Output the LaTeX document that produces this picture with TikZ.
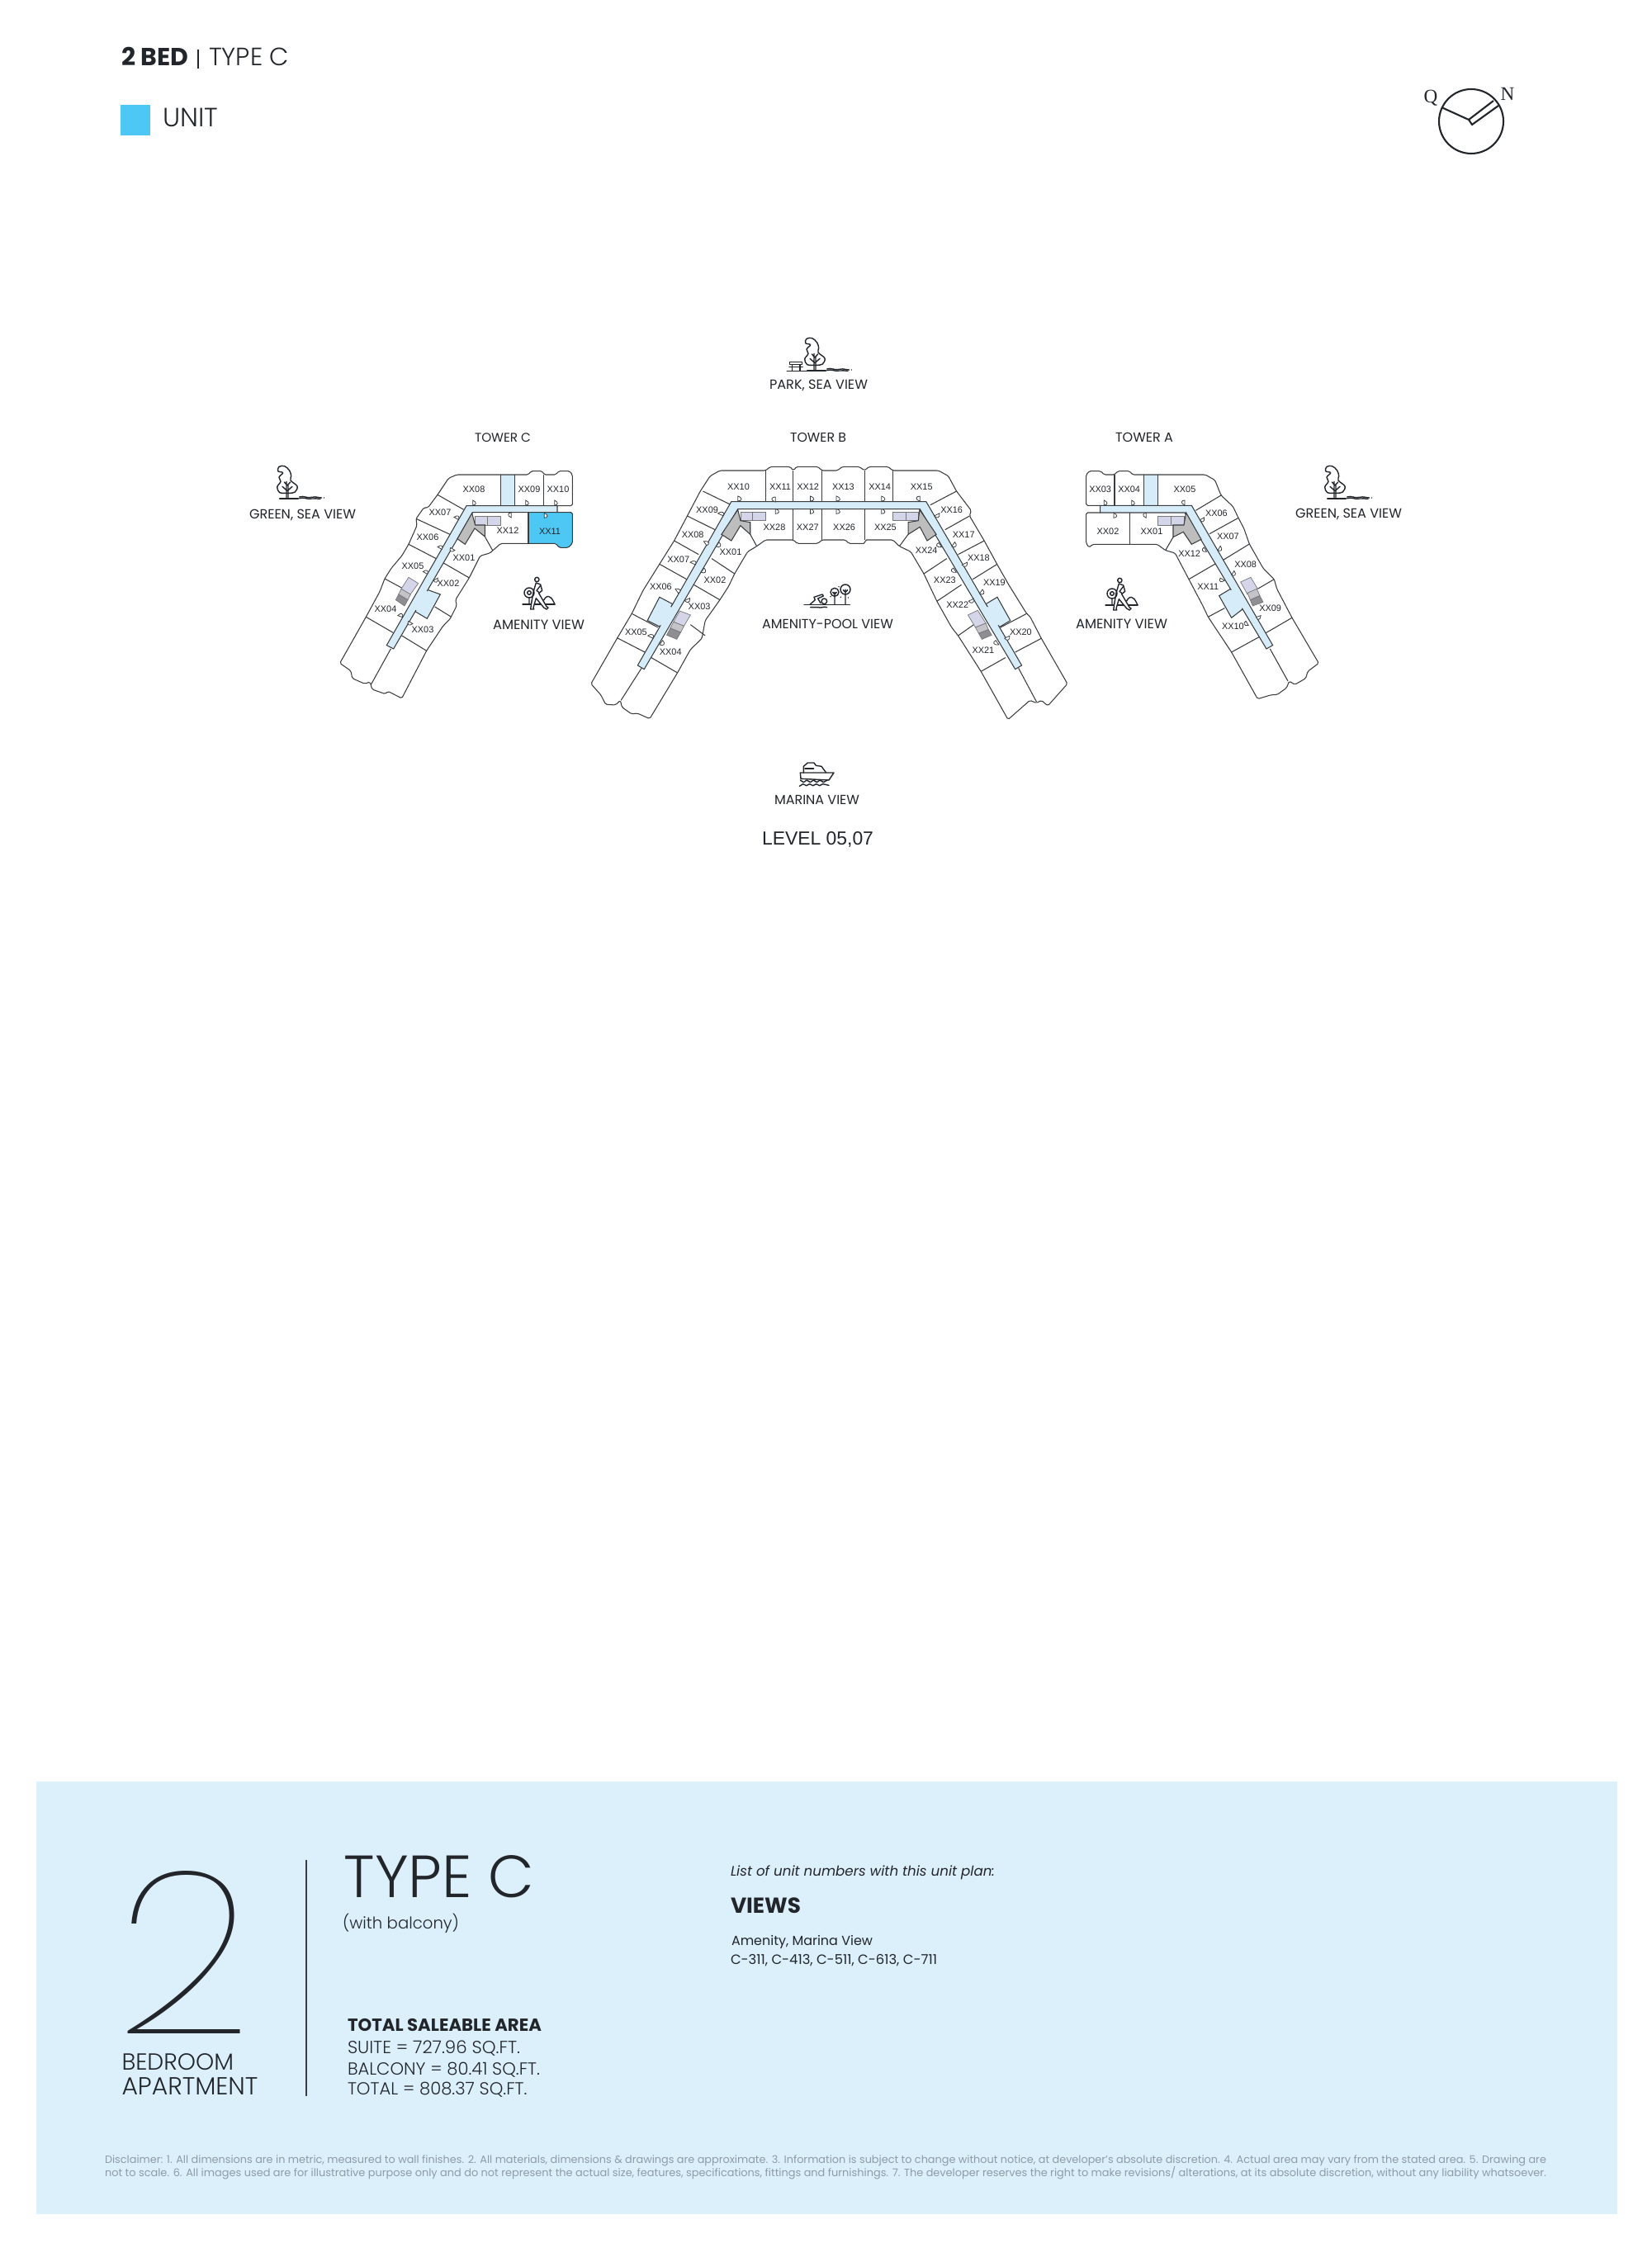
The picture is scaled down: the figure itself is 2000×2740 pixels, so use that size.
\documentclass[tikz,border=0pt]{standalone}
\usepackage{graphicx}
\usepackage{fontspec}
\setmainfont{Poppins}
\newfontfamily\plight{Poppins Light}
\newfontfamily\pthin{Poppins Thin}
\newfontfamily\lsans{Liberation Sans}
\newfontfamily\lserif{Liberation Serif}
\definecolor{ink}{HTML}{22252A}
\definecolor{wall}{HTML}{3A3D40}
\definecolor{corr}{HTML}{D6ECF8}
\definecolor{panelbg}{HTML}{DCF0FC}
\definecolor{unitblue}{HTML}{4DC8F5}
\definecolor{lilac}{HTML}{D5D5EA}
\definecolor{coreg}{HTML}{BDBDBD}
\definecolor{midg}{HTML}{C4C4C8}
\definecolor{darkg}{HTML}{8E8E92}
\definecolor{discl}{HTML}{8C9BA8}
\newlength\pxu \setlength\pxu{0.01cm}
\newcounter{nd}
\tikzset{
  wallline/.style={draw=wall,line width=0.3pt},
  softline/.style={draw=wall!70,line width=0.2pt},
  doorline/.style={draw=wall,line width=0.22pt,fill=white},
  outline/.style={draw=wall,line width=0.3pt,rounded corners=0.5pt},
  corridor/.style={draw=wall,line width=0.3pt,fill=corr},
  iconline/.style={draw=ink,line width=0.4pt,line cap=round,line join=round},
  txt/.style={inner sep=0pt,outer sep=0pt,anchor=base west,text=ink},
  unitlabel/.style={inner sep=0pt,outer sep=0pt,text=ink,font=\lsans\fontsize{3.1}{3.6}\selectfont}
}
% left x, baseline y, width, font, text
\newcommand\tx[5]{\stepcounter{nd}\node[txt] (t\thend) at (#1,#2) {\resizebox{#3\pxu}{!}{\fontsize{10}{12}\selectfont #4{}#5}};}
\newcommand\ul[3]{\stepcounter{nd}\node[unitlabel] (u\thend) at (#1,#2) {#3};}
\newcommand\door[3]{\draw[doorline,shift={(#1,#2)},rotate=#3] (0,-9) -- (0,9) .. controls (12,9) and (17,-2) .. (0,-9) -- cycle;}
\newcommand\treeicon[2]{\begin{scope}[shift={(#1,#2)},scale=0.3333]
 \draw[iconline] plot[smooth cycle,tension=0.6] coordinates {(-8,-20)(-28,-22)(-37,-42)(-24,-62)(-30,-78)(-16,-94)(-34,-100)(-30,-116)(-10,-118)(8,-102)(14,-82)(12,-66)(36,-45)(28,-24)(8,-20)};
 \draw[iconline] (-3,0)--(-3,-62) (3,0)--(3,-50) (0,-28)--(-18,-44) (0,-28)--(18,-44) (0,-48)--(-11,-60) (0,-48)--(11,-60);
 \draw[iconline] (-28,0)--(40,0);
 \draw[iconline] (44,-6) .. controls (60,-12) and (70,0) .. (90,-5) .. controls (105,-9) and (115,-2) .. (125,-3);
 \draw[iconline] (44,-1) .. controls (60,-7) and (70,4) .. (90,0) .. controls (100,-3) and (110,2) .. (120,1);
 \fill[ink] (133,-3) circle (2.5);
\end{scope}}
\newcommand\runner[2]{\begin{scope}[shift={(#1,#2)},scale=0.3333]
 \draw[iconline] (-57,0)--(60,0);
 \draw[iconline] (-5,-90) circle (8);
 \draw[iconline,fill=white] (-8,-78) -- (8,-72) -- (14,-50) -- (2,-40) -- (30,8) -- (36,12) -- (30,18) -- (20,12) -- (-8,-22) -- (-18,12) -- (-16,18) -- (-28,18) -- (-24,-10) -- (-18,-45) -- cycle;
 \draw[iconline] (8,-68) -- (-6,-50) -- (2,-44);
 \draw[iconline] (-33,-42) circle (18) (-33,-42) circle (7) (-33,-24)--(-33,0);
 \draw[iconline] (20,-15) .. controls (26,-28) and (36,-32) .. (42,-26) .. controls (50,-24) and (56,-8) .. (60,0);
\end{scope}}
\begin{document}
\begin{tikzpicture}[x=0.01cm,y=-0.01cm]
\useasboundingbox (0,0) rectangle (2000,2740);
\fill[white] (0,0) rectangle (2000,2740);

% ---- header
\tx{147}{80}{81}{\bfseries}{2 BED}
\draw[ink,line width=0.4pt] (240,60)--(240,83);
\tx{253}{80}{97}{\plight}{TYPE C}
\fill[unitblue] (146,127) rectangle (182,164);
\tx{197}{154}{67}{\plight}{UNIT}

% ---- compass
\draw[ink,line width=0.6pt] (1782,147) circle (39);
\draw[ink,line width=0.6pt,line join=miter] (1746,130)--(1779,145)--(1809,122) (1779,145)--(1783,151)--(1815,128);
\node[inner sep=0pt,text=ink,font=\lserif\fontsize{6.6}{8}\selectfont] (cq) at (1733,119) {Q};
\node[inner sep=0pt,text=ink,font=\lserif\fontsize{6.6}{8}\selectfont] (cn) at (1826,114) {N};

% ---- view labels
\treeicon{987}{449}
\begin{scope}[shift={(850,400)},scale=0.3333]
 \draw[iconline] (310,148)--(440,148) (320,115)--(365,115)--(365,125)--(320,125)--cycle (318,133)--(367,133) (328,125)--(328,148) (357,125)--(357,148);
\end{scope}
\tx{932}{472}{119}{}{PARK, SEA VIEW}
\tx{957}{536}{68}{}{TOWER B}
\tx{575}{536}{68}{}{TOWER C}
\tx{1351}{536}{70}{}{TOWER A}
\treeicon{348}{604}
\tx{302}{628}{129}{}{GREEN, SEA VIEW}
\treeicon{1617}{604}
\tx{1569}{627}{129}{}{GREEN, SEA VIEW}
\runner{652}{732}
\tx{597}{762}{111}{}{AMENITY VIEW}
\runner{1358}{733}
\tx{1303}{761}{111}{}{AMENITY VIEW}
\tx{923}{761}{159}{}{AMENITY-POOL VIEW}
\tx{938}{974}{103}{}{MARINA VIEW}
\tx{923}{1023}{135}{\lsans}{LEVEL 05,07}

% swimmer
\begin{scope}[shift={(880,700)},scale=0.3333]
 \draw[iconline] (282,97)--(448,97);
 \draw[iconline] (355,85) circle (10);
 \draw[iconline] (303,97) -- (322,80) -- (318,70) -- (348,60) -- (352,66) -- (332,75) -- (342,92);
 \draw[iconline] (305,107) .. controls (315,111) and (322,103) .. (333,107) .. controls (343,111) and (352,103) .. (365,107);
 \draw[iconline] (393,52) circle (15) (432,42) circle (18) (393,52)--(393,97) (432,42)--(432,97) (393,60)--(386,52) (393,60)--(400,52) (432,52)--(424,44) (432,52)--(440,44);
 \fill[ink] (378,68) circle (2.5) (408,32) circle (2.5) (415,70) circle (2.5) (442,72) circle (2.5);
\end{scope}
% boat
\begin{scope}[shift={(880,700)},scale=0.3333]
 \draw[iconline] (268,708)--(390,708)--(372,735)--(270,730)--cycle;
 \draw[iconline] (280,708)--(280,685)--(295,672)--(318,672)--(325,682)--(345,685)--(362,708);
 \draw[iconline,dashed] (285,693)--(340,693);
 \draw[iconline] (268,735) -- (280,743) -- (292,735) -- (304,743) -- (316,735) -- (328,743) -- (340,735) -- (352,743) -- (366,735);
 \draw[iconline] (265,757) -- (278,749) -- (290,755) -- (302,749) -- (314,755) -- (326,749) -- (338,755) -- (350,749) -- (372,754);
\end{scope}

% ---- TOWER C
\begin{scope}[shift={(380,500)},scale=0.3333]
 \fill[unitblue] (780,362) -- (940,362) -- (940,475) -- (925,490) -- (892,490) -- (880,475) -- (780,475) -- cycle;
 \fill[corr] (680,225) rectangle (730,338);
 \draw[outline] (885,338) -- (940,338) -- (940,225) -- (930,212) -- (890,212) -- (880,225) -- (838,225) -- (830,212) -- (790,212) -- (780,225) -- (520,225) -- (490,238) -- (450,298) -- (415,345) -- (400,345) -- (372,385) -- (375,410) -- (345,478) -- (320,520) -- (282,565) -- (258,603) -- (240,650) -- (190,742) -- (95,910) -- (135,938) -- (140,965) -- (185,985) -- (205,978) -- (212,1005) -- (260,1022) -- (270,1012) -- (320,1038) -- (410,865) -- (470,775) -- (495,750) -- (520,700) -- (515,680) -- (565,600) -- (605,520) -- (640,510) -- (680,475) -- (880,475) -- (892,490) -- (925,490) -- (940,475) -- (940,362) -- (885,362);
 \draw[wallline] (680,225)--(680,338) (730,225)--(730,338) (835,225)--(835,338) (780,362)--(780,475);
 \draw[wallline] (450,298)--(545,352) (372,385)--(495,442) (345,478)--(445,530) (258,603)--(345,650) (190,742)--(290,800);
 \draw[wallline] (470,545)--(565,600) (440,705)--(500,742) (320,810)--(410,865) (622,450)--(650,500) (280,858)--(207,990);
 \draw[wallline,fill=corr] (405,640) -- (460,660) -- (412,748) -- (365,720) -- cycle;
 \draw[corridor] (265,845) -- (555,338) -- (885,338) -- (885,362) -- (578,362) -- (290,858) -- cycle;
 \fill[corr] (408,648) -- (424,652) -- (382,722) -- (366,714) -- cycle;
 \draw[softline,fill=lilac] (587,375) rectangle (632,408);
 \draw[softline,fill=lilac] (632,375) rectangle (680,408);
 \draw[wallline,fill=coreg] (575,365) -- (587,408) -- (622,408) -- (622,450) -- (585,420) -- (550,478) -- (522,458) -- cycle;
 \draw[softline,fill=lilac] (345,598) -- (380,620) -- (350,662) -- (318,640) -- cycle;
 \draw[softline,fill=midg] (318,640) -- (352,660) -- (342,680) -- (308,660) -- cycle;
 \draw[softline,fill=darkg] (308,660) -- (342,680) -- (330,702) -- (298,680) -- cycle;
 \door{578}{327}{0}\door{770}{327}{0}\door{875}{327}{0}\door{718}{372}{180}\door{838}{373}{0}
 \door{518}{384}{60}\door{458}{492}{60}\door{505}{495}{-120}\door{405}{582}{60}\door{443}{605}{-60}\door{314}{740}{70}\door{352}{762}{-120}
\end{scope}
\ul{574}{593}{XX08}\ul{641}{593}{XX09}\ul{676}{593}{XX10}\ul{533}{621}{XX07}\ul{615}{643}{XX12}\ul{666}{644}{XX11}\ul{518}{651}{XX06}\ul{562}{676}{XX01}\ul{500}{686}{XX05}\ul{543}{707}{XX02}\ul{467}{738}{XX04}\ul{512}{763}{XX03}

% ---- TOWER B
\begin{scope}[shift={(700,540)},xscale=0.3953,yscale=0.3333]
 \draw[outline] (575,90) -- (590,76) -- (650,76) -- (660,90) -- (670,76) -- (735,76) -- (748,90) -- (795,90) -- (810,76) -- (862,76) -- (878,90) -- (892,76) -- (950,76) -- (965,90) -- (1105,90) -- (1135,110) -- (1160,165) -- (1205,235) -- (1200,255) -- (1245,345) -- (1285,432) -- (1320,505) -- (1375,610) -- (1385,620) -- (1420,700) -- (1500,865) -- (1440,945) -- (1420,925) -- (1405,935) -- (1385,925) -- (1318,995) -- (1235,820) -- (1165,690) -- (1145,660) -- (1100,565) -- (1080,515) -- (1060,465) -- (1020,385) -- (985,365) -- (965,342) -- (880,342) -- (880,355) -- (830,355) -- (820,342) -- (748,342) -- (735,355) -- (672,355) -- (660,342) -- (575,342) -- (548,365) -- (520,385) -- (480,465) -- (462,510) -- (435,560) -- (390,635) -- (380,700) -- (345,740) -- (305,825) -- (220,992) -- (182,972) -- (165,975) -- (135,950) -- (130,925) -- (115,942) -- (85,940) -- (70,905) -- (40,865) -- (120,700) -- (165,610) -- (200,525) -- (250,430) -- (295,345) -- (335,255) -- (375,165) -- (405,110) -- (435,90) -- cycle;
 \draw[wallline] (575,90)--(575,203) (660,90)--(660,203) (748,90)--(748,203) (878,90)--(878,203) (965,90)--(965,203) (660,230)--(660,342) (748,230)--(748,342) (880,230)--(880,342);
 \draw[wallline] (383,165)--(470,215) (335,255)--(420,305) (295,345)--(370,395) (250,430)--(333,485) (165,610)--(245,660) (120,698)--(205,750);
 \draw[wallline] (410,410)--(480,465) (355,505)--(435,560) (345,650)--(390,690) (225,770)--(305,825);
 \draw[wallline] (1160,165)--(1080,215) (1200,255)--(1125,305) (1245,345)--(1165,395) (1285,430)--(1210,485) (1375,610)--(1295,660) (1420,700)--(1340,750);
 \draw[wallline] (1130,410)--(1060,465) (1175,505)--(1100,565) (1225,640)--(1165,690) (1310,770)--(1235,820);
 \draw[wallline] (195,808)--(132,925) (1350,808)--(1405,930) (528,322)--(548,365) (1012,322)--(985,365);
 \draw[wallline,fill=corr] (250,550) -- (290,575) -- (255,660) -- (213,635) -- cycle;
 \draw[wallline,fill=corr] (1285,550) -- (1250,575) -- (1290,660) -- (1325,635) -- cycle;
 \draw[corridor] (183,798) -- (470,203) -- (1067,203) -- (1360,798) -- (1340,812) -- (1048,230) -- (490,230) -- (203,812) -- cycle;
 \fill[corr] (282,585) -- (296,590) -- (262,655) -- (248,650) -- cycle;
 \fill[corr] (1244,590) -- (1258,585) -- (1292,650) -- (1280,655) -- cycle;
 \draw[softline,fill=lilac] (498,240) rectangle (535,272);
 \draw[softline,fill=lilac] (535,240) rectangle (575,272);
 \draw[softline,fill=lilac] (965,240) rectangle (1005,272);
 \draw[softline,fill=lilac] (1005,240) rectangle (1043,272);
 \draw[wallline,fill=coreg] (490,232) -- (498,272) -- (528,278) -- (528,322) -- (498,290) -- (470,345) -- (440,322) -- cycle;
 \draw[wallline,fill=coreg] (1047,232) -- (1043,272) -- (1012,278) -- (1012,322) -- (1048,295) -- (1070,345) -- (1098,322) -- cycle;
 \draw[softline,fill=lilac] (312,600) -- (345,615) -- (325,655) -- (293,640) -- cycle;
 \draw[softline,fill=midg] (293,640) -- (325,655) -- (315,678) -- (283,663) -- cycle;
 \draw[softline,fill=darkg] (283,663) -- (315,678) -- (303,703) -- (272,688) -- cycle;
 \draw[softline,fill=lilac] (1225,598) -- (1250,645) -- (1218,660) -- (1195,615) -- cycle;
 \draw[softline,fill=midg] (1250,645) -- (1258,668) -- (1228,682) -- (1218,660) -- cycle;
 \draw[softline,fill=darkg] (1258,668) -- (1268,688) -- (1238,703) -- (1228,682) -- cycle;
 \door{490}{192}{0}\door{605}{195}{180}\door{712}{192}{0}\door{792}{192}{0}\door{930}{192}{0}\door{1048}{192}{180}
 \door{605}{238}{0}\door{712}{238}{0}\door{792}{238}{0}\door{930}{238}{0}
 \door{437}{250}{60}\door{390}{355}{30}\door{428}{358}{-30}\door{352}{428}{60}\door{382}{452}{-30}\door{303}{528}{30}\door{335}{558}{-60}\door{222}{695}{60}\door{255}{715}{-30}
 \door{1100}{250}{-60}\door{1110}{360}{-150}\door{1150}{358}{-30}\door{1185}{428}{-60}\door{1155}{452}{-150}\door{1235}{530}{-30}\door{1205}{560}{-60}\door{1285}{715}{-150}\door{1315}{695}{-60}
 \foreach \px/\py/\pt in {492/148/XX10,620/148/XX11,705/148/XX12,813/148/XX13,925/148/XX14,1053/148/XX15,396/234/XX09,1145/234/XX16,602/297/XX28,704/297/XX27,816/297/XX26,942/297/XX25,352/323/XX08,1182/323/XX17,468/385/XX01,1068/380/XX24,308/412/XX07,1228/408/XX18,420/487/XX02,1124/487/XX23,254/512/XX06,1276/498/XX19,372/585/XX03,1163/578/XX22,178/678/XX05,1357/676/XX20,284/750/XX04,1242/742/XX21} {\node[unitlabel] (b\pt) at (\px,\py) {\pt};}
\end{scope}

% ---- TOWER A
\begin{scope}[shift={(1280,540)},scale=0.3333]
 \fill[corr] (317,105) rectangle (367,217);
 \draw[outline] (158,217) -- (107,217) -- (107,105) -- (118,92) -- (160,92) -- (172,105) -- (210,105) -- (222,92) -- (265,92) -- (275,105) -- (540,105) -- (575,125) -- (597,180) -- (640,220) -- (660,262) -- (680,300) -- (700,357) -- (750,445) -- (790,485) -- (800,520) -- (855,625) -- (952,790) -- (912,820) -- (905,845) -- (865,868) -- (845,855) -- (835,880) -- (800,905) -- (780,905) -- (730,920) -- (635,750) -- (550,622) -- (530,580) -- (480,485) -- (430,390) -- (395,380) -- (365,358) -- (130,358) -- (118,370) -- (107,355) -- (107,243) -- (158,243);
 \draw[wallline] (210,105)--(210,217) (317,105)--(317,217) (367,105)--(367,217) (265,243)--(265,358);
 \draw[wallline] (597,180)--(505,235) (660,262)--(555,320) (700,357)--(605,415) (790,485)--(730,520) (855,625)--(760,680);
 \draw[wallline] (578,428)--(480,485) (610,590)--(550,622) (735,695)--(635,750) (775,738)--(840,855) (423,332)--(395,380);
 \draw[wallline,fill=corr] (590,545) -- (640,515) -- (680,590) -- (635,625) -- cycle;
 \draw[corridor] (158,217) -- (490,217) -- (785,725) -- (762,738) -- (465,243) -- (158,243) -- cycle;
 \fill[corr] (622,530) -- (640,522) -- (680,585) -- (664,596) -- cycle;
 \draw[softline,fill=lilac] (367,255) rectangle (415,288);
 \draw[softline,fill=lilac] (415,255) rectangle (462,288);
 \draw[wallline,fill=coreg] (470,243) -- (525,340) -- (490,358) -- (460,313) -- (423,332) -- (423,288) -- (462,288) -- cycle;
 \draw[softline,fill=lilac] (668,495) -- (705,478) -- (730,520) -- (693,540) -- cycle;
 \draw[softline,fill=midg] (693,535) -- (727,520) -- (738,545) -- (703,560) -- cycle;
 \draw[softline,fill=darkg] (703,560) -- (738,545) -- (750,568) -- (712,582) -- cycle;
 \door{172}{207}{0}\door{272}{207}{0}\door{465}{207}{180}\door{207}{253}{0}\door{325}{253}{180}
 \door{528}{265}{-60}\door{540}{377}{-150}\door{590}{372}{-30}\door{640}{462}{-30}\door{602}{485}{-120}\door{733}{620}{-70}\door{692}{645}{-150}
 \foreach \px/\py/\pt in {158/158/XX03,263/158/XX04,465/158/XX05,580/245/XX06,622/330/XX07,186/311/XX02,345/311/XX01,482/393/XX12,686/430/XX08,550/512/XX11,776/590/XX09,640/655/XX10} {\node[unitlabel] (a\pt) at (\px,\py) {\pt};}
\end{scope}

% ---- bottom panel
\fill[panelbg] (44,2158) rectangle (1959,2682);
\node[txt] (big2) at (140,2463) {\resizebox{165\pxu}{197\pxu}{\pthin 2}};
\tx{147.5}{2507}{135.5}{\plight}{BEDROOM}
\tx{147.5}{2537}{165}{\plight}{APARTMENT}
\draw[wall,line width=0.35pt] (371,2253)--(371,2539);
\tx{416.6}{2298}{230.4}{\plight}{TYPE C}
\tx{415}{2336}{141}{\plight}{(with balcony)}
\tx{421}{2460}{235}{\bfseries}{TOTAL SALEABLE AREA}
\tx{421}{2487}{209}{\plight}{SUITE = 727.96 SQ.FT.}
\tx{421}{2513}{233}{\plight}{BALCONY = 80.41 SQ.FT.}
\tx{421}{2537}{217.5}{\plight}{TOTAL = 808.37 SQ.FT.}
\tx{885}{2272}{320}{\itshape}{List of unit numbers with this unit plan:}
\tx{885}{2317}{85}{\bfseries}{VIEWS}
\tx{886}{2356}{171}{}{Amenity, Marina View}
\tx{885}{2379}{250}{}{C-311, C-413, C-511, C-613, C-711}
\node[txt,text=discl] (d1) at (127,2620) {\resizebox{1746\pxu}{!}{\fontsize{10}{12}\selectfont Disclaimer: 1. All dimensions are in metric, measured to wall finishes. 2. All materials, dimensions \& drawings are approximate. 3. Information is subject to change without notice, at developer's absolute discretion. 4. Actual area may vary from the stated area. 5. Drawing are}};
\node[txt,text=discl] (d2) at (127,2636) {\resizebox{1746\pxu}{!}{\fontsize{10}{12}\selectfont not to scale. 6. All images used are for illustrative purpose only and do not represent the actual size, features, specifications, fittings and furnishings. 7. The developer reserves the right to make revisions/ alterations, at its absolute discretion, without any liability whatsoever.}};
\end{tikzpicture}
\end{document}
